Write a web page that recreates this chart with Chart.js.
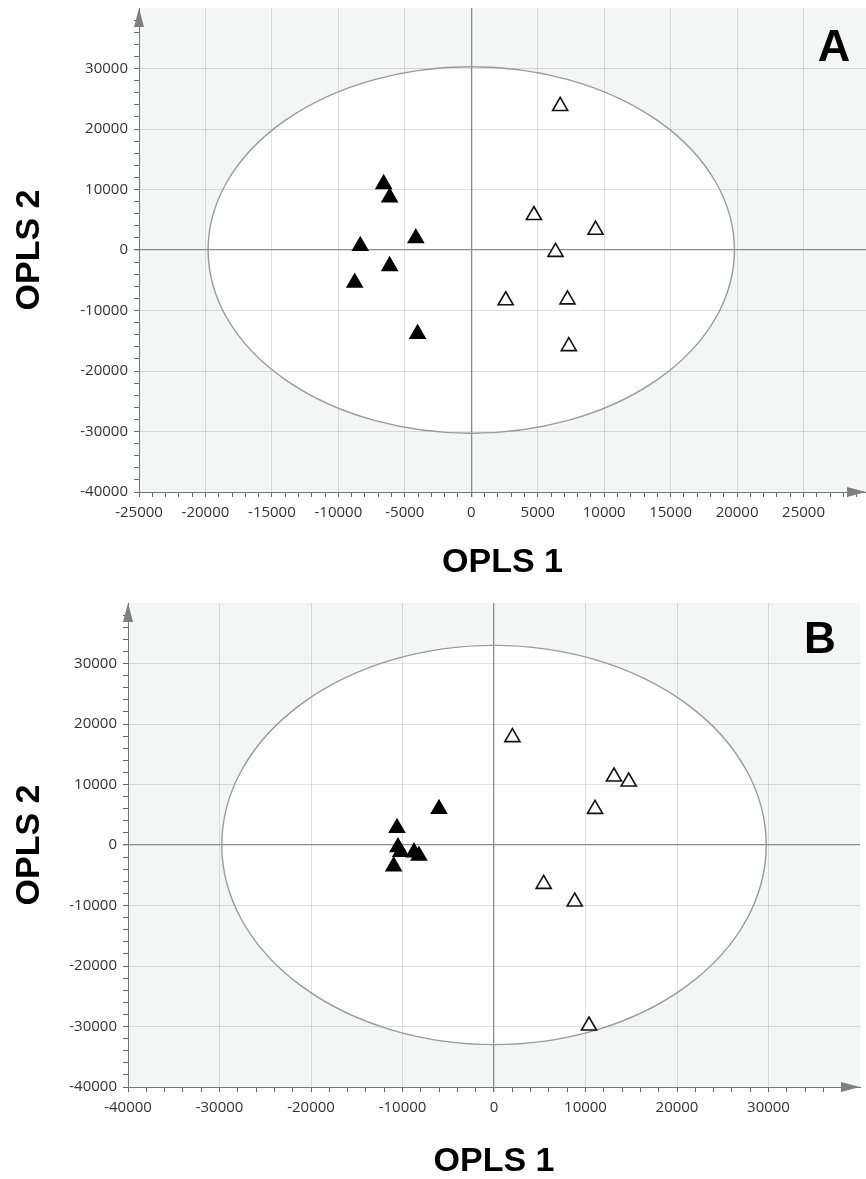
<!DOCTYPE html>
<html>
<head>
<meta charset="utf-8">
<script src="https://cdn.jsdelivr.net/npm/chart.js@4.4.1/dist/chart.umd.min.js"></script>
<style>
  html, body { margin: 0; padding: 0; background: #fff; }
  .panel { position: absolute; left: 0; width: 866px; }
</style>
</head>
<body>
<div class="panel" style="top:0;height:590px"><canvas id="chartA" width="866" height="590"></canvas></div>
<div class="panel" style="top:590px;height:589px"><canvas id="chartB" width="866" height="589"></canvas></div>
<script>
// Panel A - scores
const filledAx = [-6590, -6140, -8350, -4170, -6140, -8770, -4040];
const filledAy = [10900, 8690, 660, 1940, -2650, -5410, -13860];
const openAx = [6690, 4710, 9350, 6340, 2590, 7240, 7340];
const openAy = [23780, 5750, 3320, -330, -8340, -8180, -15920];

// Panel B - scores
const filledBx = [-6010, -10600, -10500, -10200, -10960, -8740, -8200];
const filledBy = [5950, 2810, -350, -1150, -3520, -1210, -1770];
const openBx = [2010, 13110, 14720, 11040, 5430, 8820, 10380];
const openBy = [17800, 11290, 10460, 5950, -6450, -9370, -29870];

// Axis ranges and ticks [min, max, major step, minor step]
const axisAx = [-25000, 29700, 5000, 1000];
const axisAy = [-40000, 40000, 10000, 2000];
const axisBx = [-40000, 40000, 10000, 2000];
const axisBy = [-40000, 40000, 10000, 2000];

// Hotelling T2 ellipse radii [x, y]
const ellipseA = [19800, 30300];
const ellipseB = [29750, 33000];

const toPoints = (xs, ys) => xs.map((x, i) => ({x: x, y: ys[i]}));

// grey plot area with white ellipse, ellipse outline, axis arrows, panel letter
const plotDecor = {
  id: 'plotDecor',
  beforeDraw(chart, args, opts) {
    const {ctx, chartArea: a, scales} = chart;
    const cx = scales.x.getPixelForValue(0);
    const cy = scales.y.getPixelForValue(0);
    const rx = scales.x.getPixelForValue(opts.ellipse[0]) - cx;
    const ry = cy - scales.y.getPixelForValue(opts.ellipse[1]);
    ctx.save();
    ctx.fillStyle = '#f4f5f5';
    ctx.fillRect(a.left, a.top, a.right - a.left, a.bottom - a.top);
    ctx.fillStyle = '#ffffff';
    ctx.beginPath();
    ctx.ellipse(cx, cy, rx, ry, 0, 0, Math.PI * 2);
    ctx.fill();
    ctx.restore();
  },
  beforeDatasetsDraw(chart, args, opts) {
    const {ctx, chartArea: a, scales} = chart;
    const cx = scales.x.getPixelForValue(0);
    const cy = scales.y.getPixelForValue(0);
    const rx = scales.x.getPixelForValue(opts.ellipse[0]) - cx;
    const ry = cy - scales.y.getPixelForValue(opts.ellipse[1]);
    ctx.save();
    ctx.strokeStyle = '#9a9a9a';
    ctx.lineWidth = 1.4;
    ctx.beginPath();
    ctx.ellipse(cx, cy, rx, ry, 0, 0, Math.PI * 2);
    ctx.stroke();

    // arrows at the axis ends
    ctx.fillStyle = '#808080';
    ctx.beginPath();
    ctx.moveTo(a.left, a.top);
    ctx.lineTo(a.left - 5, a.top + 19);
    ctx.lineTo(a.left + 5, a.top + 19);
    ctx.closePath();
    ctx.fill();
    ctx.beginPath();
    ctx.moveTo(a.right, a.bottom);
    ctx.lineTo(a.right - 19, a.bottom - 5);
    ctx.lineTo(a.right - 19, a.bottom + 5);
    ctx.closePath();
    ctx.fill();
    ctx.restore();
  },
  afterDraw(chart, args, opts) {
    const ctx = chart.ctx;
    ctx.save();
    ctx.fillStyle = '#000';
    ctx.font = 'bold ' + opts.letterSize + 'px "Liberation Sans", Arial, sans-serif';
    ctx.textAlign = 'center';
    ctx.textBaseline = 'middle';
    ctx.fillText(opts.letter, opts.letterX, opts.letterY);
    ctx.restore();
  }
};

const isMajor = (v, axis) => v % axis[2] === 0 && v !== axis[1];

const makeScale = (axis, title, width, height, titlePad) => ({
  type: 'linear',
  min: axis[0],
  max: axis[1],
  afterFit: (scale) => {
    if (width) scale.width = width;
    if (height) scale.height = height;
    // plot area is placed by the layout padding only
    scale.paddingLeft = 0;
    scale.paddingRight = 0;
    scale.paddingTop = 0;
    scale.paddingBottom = 0;
  },
  border: { display: true, color: '#777', width: 1 },
  grid: {
    color: (c) => {
      const v = c.tick.value;
      if (v === 0) return '#8c8c8c';
      if (isMajor(v, axis)) return 'rgba(0,0,0,0.12)';
      return 'rgba(0,0,0,0)';
    },
    lineWidth: (c) => c.tick.value === 0 ? 1.3 : 1,
    tickColor: (c) => (c.tick.value % axis[3] === 0 && c.tick.value !== axis[1]) ? '#6a6a6a' : 'rgba(0,0,0,0)',
    tickLength: 5,
    drawTicks: true
  },
  ticks: {
    // fine step so every minor tick falls on a round value even when max is not a multiple
    stepSize: 100,
    maxTicksLimit: 1000,
    autoSkip: false,
    includeBounds: false,
    maxRotation: 0,
    minRotation: 0,
    padding: width ? 6 : 7,
    color: '#333',
    font: { family: '"Open Sans", "DejaVu Sans", sans-serif', size: 15 },
    callback: (v) => isMajor(v, axis) ? String(v) : ''
  },
  title: {
    display: true,
    text: title,
    color: '#000',
    font: { family: '"Liberation Sans", Arial, sans-serif', size: 34, weight: 'bold', lineHeight: 1 },
    padding: width ? { top: 13, bottom: 0 } : { top: 0, bottom: titlePad }
  }
});

const makeChart = (id, filled, open, ax, ay, ell, layout) => {
  const ctx = document.getElementById(id).getContext('2d');
  return new Chart(ctx, {
    type: 'scatter',
    data: {
      datasets: [{
        data: filled,
        pointStyle: 'triangle',
        pointRadius: 8.7,
        pointBackgroundColor: '#000',
        pointBorderColor: '#000',
        pointBorderWidth: 1.5
      }, {
        data: open,
        pointStyle: 'triangle',
        pointRadius: 8.7,
        pointBackgroundColor: '#fff',
        pointBorderColor: '#111',
        pointBorderWidth: 1.6
      }]
    },
    options: {
      responsive: false,
      animation: false,
      devicePixelRatio: 1,
      layout: {
        autoPadding: false,
        padding: { top: layout.top, right: layout.right, left: 0, bottom: 0 }
      },
      plugins: {
        legend: { display: false },
        tooltip: { enabled: false },
        plotDecor: {
          ellipse: ell,
          letter: layout.letter,
          letterX: layout.letterX,
          letterY: layout.letterY,
          letterSize: layout.letterSize
        }
      },
      scales: {
        x: makeScale(ax, 'OPLS 1', null, layout.xHeight, layout.titlePad),
        y: makeScale(ay, 'OPLS 2', layout.yWidth, null, 0)
      }
    },
    plugins: [plotDecor]
  });
};

makeChart('chartA', toPoints(filledAx, filledAy), toPoints(openAx, openAy), axisAx, axisAy, ellipseA,
  { top: 8, right: 0, yWidth: 139, xHeight: 98, titlePad: 10, letter: 'A', letterX: 834, letterY: 49, letterSize: 45 });
makeChart('chartB', toPoints(filledBx, filledBy), toPoints(openBx, openBy), axisBx, axisBy, ellipseB,
  { top: 13, right: 6, yWidth: 128, xHeight: 92, titlePad: 0, letter: 'B', letterX: 820, letterY: 51, letterSize: 44 });
</script>
</body>
</html>
